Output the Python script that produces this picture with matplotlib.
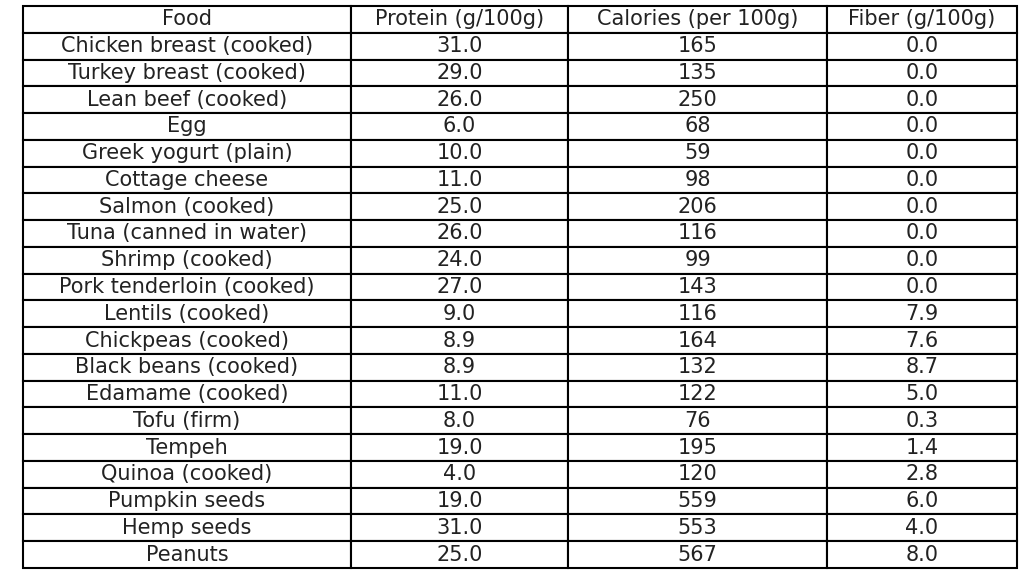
import matplotlib

matplotlib.use("Agg")

import matplotlib.pyplot as plt  # noqa: E402

columns = ["Food", "Protein (g/100g)", "Calories (per 100g)", "Fiber (g/100g)"]
foods = [
    "Chicken breast (cooked)", "Turkey breast (cooked)", "Lean beef (cooked)", "Egg",
    "Greek yogurt (plain)", "Cottage cheese", "Salmon (cooked)", "Tuna (canned in water)",
    "Shrimp (cooked)", "Pork tenderloin (cooked)", "Lentils (cooked)", "Chickpeas (cooked)",
    "Black beans (cooked)", "Edamame (cooked)", "Tofu (firm)", "Tempeh", "Quinoa (cooked)",
    "Pumpkin seeds", "Hemp seeds", "Peanuts",
]
protein = [31.0, 29.0, 26.0, 6.0, 10.0, 11.0, 25.0, 26.0, 24.0, 27.0,
           9.0, 8.9, 8.9, 11.0, 8.0, 19.0, 4.0, 19.0, 31.0, 25.0]
calories = [165, 135, 250, 68, 59, 98, 206, 116, 99, 143,
            116, 164, 132, 122, 76, 195, 120, 559, 553, 567]
fiber = [0.0, 0.0, 0.0, 0.0, 0.0, 0.0, 0.0, 0.0, 0.0, 0.0,
         7.9, 7.6, 8.7, 5.0, 0.3, 1.4, 2.8, 6.0, 4.0, 8.0]

cells = [[f, f"{p:.1f}", str(c), f"{fb:.1f}"]
         for f, p, c, fb in zip(foods, protein, calories, fiber)]

fig = plt.figure(figsize=(10.24, 5.74), dpi=100)
ax = fig.add_axes([0, 0, 1, 1])
ax.axis("off")

W, H = 1024, 574
x0, x1, y0, y1 = 23, 1017, 6, 568
table = ax.table(
    cellText=cells,
    colLabels=columns,
    cellLoc="center",
    colWidths=[328 / 994, 217 / 994, 259 / 994, 190 / 994],
    bbox=[x0 / W, 1 - y1 / H, (x1 - x0) / W, (y1 - y0) / H],
)
table.auto_set_font_size(False)
for cell in table.get_celld().values():
    cell.set_linewidth(1.5)
    cell.get_text().set_fontsize(15)
    cell.get_text().set_color("#222222")

fig.savefig("out.png", dpi=100)
plt.close(fig)
